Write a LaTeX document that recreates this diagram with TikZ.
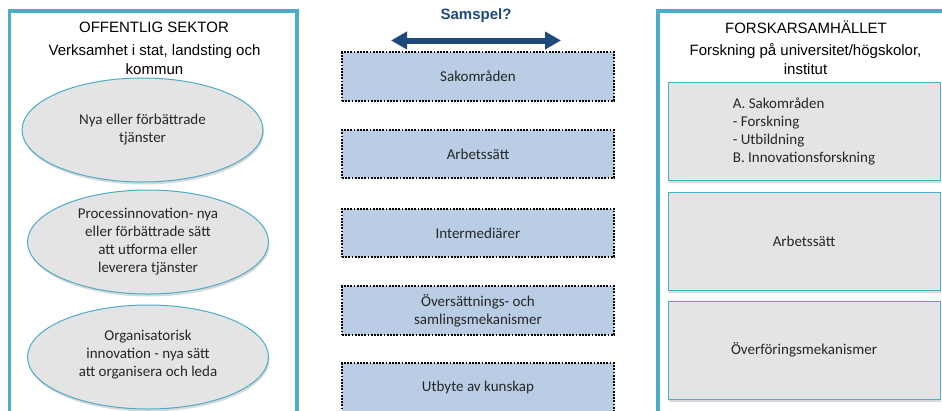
\documentclass[tikz,border=0pt]{standalone}
\usepackage{fontspec}
\setmainfont{Liberation Sans}
\newfontfamily\carlito{Carlito}
\usetikzlibrary{shapes.geometric,arrows.meta,shadows}
\definecolor{ramteal}{HTML}{4BACC6}
\definecolor{boxblue}{HTML}{B9CDE5}
\definecolor{boxgray}{HTML}{E4E4E4}
\definecolor{navy}{HTML}{1F497D}
\tikzset{
  ram/.style={draw=ramteal,line width=3.5pt},
  rubrik/.style={font=\fontsize{15}{19}\selectfont,align=center,text=black},
  ellips/.style={ellipse,draw=ramteal,line width=1pt,fill=boxgray,minimum width=241pt,minimum height=104pt,inner sep=0pt,
    drop shadow={shadow xshift=1pt,shadow yshift=-2.5pt,opacity=0.3}},
  brodtext/.style={font=\carlito\fontsize{15}{18}\selectfont,align=center,text=black!85},
  mittbox/.style={rectangle,draw=black,fill=boxblue,line width=2pt,dash pattern=on 1.8pt off 1.4pt,
    minimum width=272pt,minimum height=48.5pt,font=\carlito\fontsize{15}{18}\selectfont,align=center,text=black!85},
  grabox/.style={rectangle,draw=ramteal,line width=0.9pt,fill=boxgray,minimum width=272pt,minimum height=98pt,
    font=\carlito\fontsize{15}{18.5}\selectfont,text=black!85,
    drop shadow={shadow xshift=1pt,shadow yshift=-2.5pt,opacity=0.3}},
  samspelpil/.style={navy,line width=6pt,{Triangle[length=16pt,width=17pt]}-{Triangle[length=16pt,width=17pt]}}
}
\begin{document}
\begin{tikzpicture}[x=1pt,y=-1pt]
    \useasboundingbox (0,0) rectangle (942,410);
    \clip (0,0) rectangle (942,410);
    % ramar
    \draw[ram] (9.5,11) rectangle (297,425);
    \draw[ram] (658,11) rectangle (955,425);
    % offentlig sektor
    \node[rubrik] (offtitel) at (154,27) {OFFENTLIG SEKTOR};
    \node[rubrik] (offunder) at (154.5,60) {Verksamhet i stat, landsting och\\kommun};
    \node[ellips] (ell1) at (142.5,130) {};
    \node[brodtext] (ell1text) at (ell1) {Nya eller förbättrade\\tjänster};
    \node[ellips] (ell2) at (148,242) {};
    \node[brodtext] (ell2text) at (ell2) {Processinnovation- nya\\eller förbättrade sätt\\att utforma eller\\leverera tjänster};
    \node[ellips] (ell3) at (148,357) {};
    \node[brodtext] (ell3text) at (148,355) {Organisatorisk\\innovation - nya sätt\\att organisera och leda};
    % samspel
    \node[font=\bfseries\fontsize{15}{18}\selectfont,text=navy] (samspel) at (476,16) {Samspel?};
    \coordinate (sampL) at (391,40.5);
    \coordinate (sampR) at (561,40.5);
    \draw[samspelpil] (sampL) -- (sampR);
    \node[mittbox] (mitt1) at (478,76.5) {Sakområden};
    \node[mittbox] (mitt2) at (478,154) {Arbetssätt};
    \node[mittbox] (mitt3) at (478,233) {Intermediärer};
    \node[mittbox] (mitt4) at (478,310.5) {Översättnings- och\\samlingsmekanismer};
    \node[mittbox] (mitt5) at (478,387.5) {Utbyte av kunskap};
    % forskarsamhället
    \node[rubrik] (forsktitel) at (806,27) {FORSKARSAMHÄLLET};
    \node[rubrik] (forskunder) at (805.5,59.5) {Forskning på universitet/högskolor,\\institut};
    \node[grabox] (hoger1) at (804,131) {};
    \node[brodtext,align=left] (hoger1text) at (hoger1) {A. Sakområden\\- Forskning\\- Utbildning\\B. Innovationsforskning};
    \node[grabox] (hoger2) at (804,241) {Arbetssätt};
    \node[grabox] (hoger3) at (804,350) {Överföringsmekanismer};
\end{tikzpicture}
\end{document}
